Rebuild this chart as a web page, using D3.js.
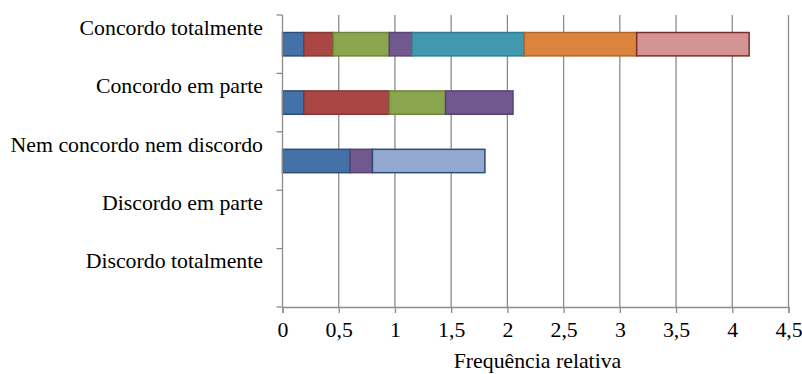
<!DOCTYPE html>
<html>
<head>
<meta charset="utf-8">
<script src="https://cdn.jsdelivr.net/npm/d3@7"></script>
<style>
  html, body { margin: 0; padding: 0; background: #ffffff; }
  svg { display: block; }
  svg text { font-family: "Times New Roman", "Liberation Serif", Tinos, "DejaVu Serif", serif !important; fill: #000; }
</style>
</head>
<body>
<svg id="chart" width="802" height="374"></svg>
<script>
const categories = ["Concordo totalmente", "Concordo em parte", "Nem concordo nem discordo", "Discordo em parte", "Discordo totalmente"];
const series1 = [0.19, 0.19, 0.6, 0, 0];
const series2 = [0.26, 0.76, 0, 0, 0];
const series3 = [0.5, 0.5, 0, 0, 0];
const series4 = [0.2, 0.6, 0.2, 0, 0];
const series5 = [1.0, 0, 0, 0, 0];
const series6 = [1.0, 0, 0, 0, 0];
const series7 = [1.0, 0, 0, 0, 0];
const series8 = [0, 0, 1.0, 0, 0];
const xTicks = [0, 0.5, 1, 1.5, 2, 2.5, 3, 3.5, 4, 4.5];
const xTitle = "Frequência relativa";

(function () {
const allSeries = [series1, series2, series3, series4, series5, series6, series7, series8];
const fills   = ["#4472A8", "#AA4643", "#89A54E", "#71588F", "#4198AF", "#DB843D", "#D49494", "#93A9CF"];
const strokes = ["#2C4D75", "#863634", "#6E853D", "#574471", "#317A8E", "#B0672B", "#7A2E2C", "#2C4D75"];
const FONT = "'Times New Roman', 'Liberation Serif', Tinos, 'DejaVu Serif', serif";
const FS = "21.8px";

const svg = d3.select("#chart");
const pL = 282.5, pR = 788.5, pT = 15, pB = 307;

const x = d3.scaleLinear().domain([0, 4.5]).range([pL, pR]);
const y = d3.scaleBand().domain(categories).range([pT, pB]).paddingInner(0.6).paddingOuter(0.3);
const step = y.step();

// gridlines
svg.append("g").selectAll("line").data(xTicks.slice(1)).join("line")
  .attr("x1", d => x(d)).attr("x2", d => x(d))
  .attr("y1", pT).attr("y2", pB)
  .attr("stroke", "#8C8C8C").attr("stroke-width", 1.3);

// stacked data
const rows = categories.map((c, i) => {
  const o = { cat: c };
  allSeries.forEach((s, k) => o["s" + k] = s[i]);
  return o;
});
const keys = allSeries.map((s, k) => "s" + k);
const stacked = d3.stack().keys(keys)(rows);

svg.append("g").selectAll("g").data(stacked).join("g")
  .attr("fill", (d, k) => fills[k])
  .attr("stroke", (d, k) => strokes[k])
  .attr("stroke-width", 1.5)
  .selectAll("rect")
  .data(d => d.filter(p => p[1] - p[0] > 0))
  .join("rect")
  .attr("x", d => x(d[0]))
  .attr("width", d => x(d[1]) - x(d[0]))
  .attr("y", d => y(d.data.cat))
  .attr("height", y.bandwidth());

// x axis
const xAxis = d3.axisBottom(x).tickValues(xTicks).tickSize(6).tickPadding(9)
  .tickFormat(d => String(d).replace(".", ","));
const gx = svg.append("g").attr("transform", `translate(0,${pB})`).call(xAxis)
  .attr("font-family", FONT).attr("font-size", FS);
gx.select(".domain").attr("stroke", "#8C8C8C").attr("stroke-width", 1.3);
gx.selectAll(".tick line").attr("stroke", "#8C8C8C").attr("stroke-width", 1.3);
gx.selectAll(".tick text").attr("font-size", FS)
  .style("font-family", FONT).attr("fill", "#000");

// y axis line and boundary ticks
svg.append("line").attr("x1", pL).attr("x2", pL).attr("y1", pT).attr("y2", pB)
  .attr("stroke", "#8C8C8C").attr("stroke-width", 1.3);
const bounds = d3.range(categories.length + 1).map(i => pT + i * step);
svg.append("g").selectAll("line").data(bounds).join("line")
  .attr("x1", pL - 6).attr("x2", pL).attr("y1", d => d).attr("y2", d => d)
  .attr("stroke", "#8C8C8C").attr("stroke-width", 1.3);

// category labels
svg.append("g").selectAll("text").data(categories).join("text")
  .attr("x", 263)
  .attr("y", d => y(d) + y.bandwidth() / 2 - 9.5)
  .attr("text-anchor", "end")
  .attr("font-size", FS)
  .style("font-family", FONT)
  .text(d => d);

// x title
svg.append("text").attr("x", (pL + pR) / 2 + 2).attr("y", 368)
  .attr("text-anchor", "middle").attr("font-size", FS)
  .style("font-family", FONT).text(xTitle);
})();
</script>
</body>
</html>
